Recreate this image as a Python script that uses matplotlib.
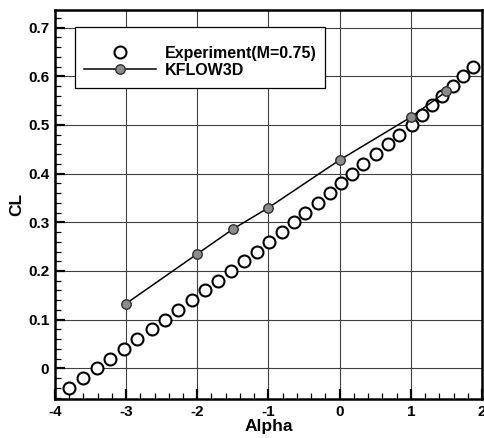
#!/usr/bin/env python3
import numpy as np
import matplotlib
matplotlib.use('Agg')
import matplotlib.pyplot as plt
from matplotlib.ticker import MultipleLocator
from matplotlib.patches import Rectangle

fsz = (4.85, 4.38) # figure size in inches at 100 dpi

# Experiment (M=0.75)
alpha_exp = [-3.80, -3.60, -3.41, -3.23, -3.03, -2.84, -2.64, -2.45, -2.27, -2.08,
             -1.89, -1.71, -1.52, -1.34, -1.16, -0.99, -0.81, -0.64, -0.48, -0.30,
             -0.13, 0.02, 0.18, 0.33, 0.51, 0.68, 0.83, 1.01, 1.15, 1.30,
             1.44, 1.59, 1.73, 1.87]
cl_exp = [-0.04, -0.02, 0.00, 0.02, 0.04, 0.06, 0.08, 0.10, 0.12, 0.14,
          0.16, 0.18, 0.20, 0.22, 0.24, 0.26, 0.28, 0.30, 0.32, 0.34,
          0.36, 0.38, 0.40, 0.42, 0.44, 0.46, 0.48, 0.50, 0.52, 0.54,
          0.56, 0.58, 0.60, 0.62]

# KFLOW3D computation
alpha_kf = [-3.0, -2.0, -1.5, -1.0, 0.0, 1.0, 1.5]
cl_kf = [0.133, 0.235, 0.286, 0.330, 0.428, 0.516, 0.569]

plt.rcParams['font.family'] = ['Liberation Sans', 'DejaVu Sans']
plt.rcParams['font.weight'] = 'bold'
plt.rcParams['axes.unicode_minus'] = False

fig = plt.figure(figsize=fsz, dpi=100)
ax = fig.add_axes([0.113, 0.089, 0.881, 0.888])

ax.plot(alpha_exp, cl_exp, 'o', ls='none', mfc='white', mec='black',
        ms=8.6, mew=1.5, label='Experiment(M=0.75)', zorder=3)
ax.plot(alpha_kf, cl_kf, '-o', color='black', lw=1.1, mfc='#8c8c8c', mec='#303030',
        ms=6.8, mew=1.0, label='KFLOW3D', zorder=4)

ax.set_xlim([-4, 2])
ax.set_ylim([-0.063, 0.736])
ax.xaxis.set_major_locator(MultipleLocator(1))
ax.xaxis.set_minor_locator(MultipleLocator(0.2))
ax.yaxis.set_minor_locator(MultipleLocator(0.02))
ax.set_yticks([0, 0.1, 0.2, 0.3, 0.4, 0.5, 0.6, 0.7])
ax.set_yticklabels(['0', '0.1', '0.2', '0.3', '0.4', '0.5', '0.6', '0.7'])

ax.tick_params(which='major', direction='in', length=7, width=1.6,
               labelsize=11, top=False, right=False, pad=4)
ax.tick_params(which='minor', direction='in', length=4, width=0.9,
               top=False, right=False)
for lbl in ax.get_xticklabels() + ax.get_yticklabels():
    lbl.set_fontweight('bold')
for sp in ax.spines.values():
    sp.set_linewidth(1.8)

ax.grid(True, which='major', color='#404040', lw=0.8)
ax.set_axisbelow(True)

ax.set_xlabel('Alpha', fontsize=12.5, fontweight='bold', labelpad=0)
ax.set_ylabel('CL', fontsize=12.5, fontweight='bold', labelpad=3)

# legend entries without frame, box drawn separately
leg = ax.legend(loc='upper left', bbox_to_anchor=(0.068, 0.908), frameon=False,
                fontsize=11.5, borderpad=0, handlelength=4.5, handletextpad=0.55,
                labelspacing=0.12, borderaxespad=0)
for t in leg.get_texts():
    t.set_fontweight('bold')
leg.set_zorder(6)
box = Rectangle((0.047, 0.7995), 0.585, 0.1565, transform=ax.transAxes,
                facecolor='white', edgecolor='black', lw=0.9, zorder=5)
ax.add_patch(box)

fig.savefig('out.png', dpi=100)
